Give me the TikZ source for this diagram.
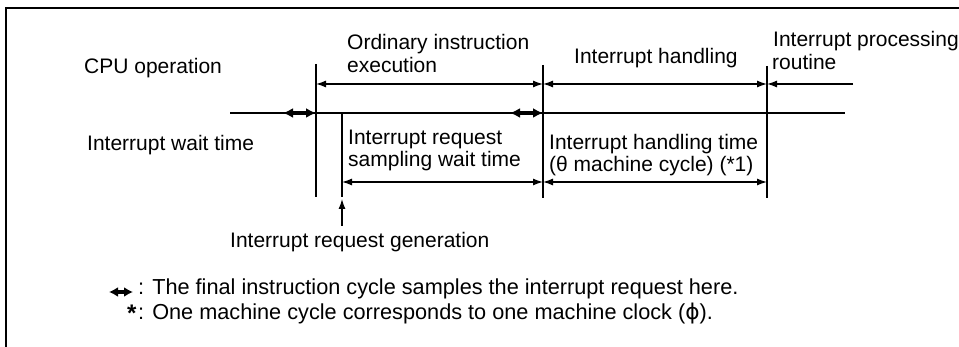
\documentclass[tikz,border=0pt]{standalone}
\usepackage{fontspec}
\setmainfont{Liberation Sans}
\newfontfamily\symfont{DejaVu Sans}
\usetikzlibrary{arrows.meta}
\tikzset{
  lbl/.style={anchor=base west, inner sep=0pt, font=\fontsize{21}{23}\selectfont},
  leglbl/.style={anchor=base west, inner sep=0pt, font=\fontsize{21.7}{23}\selectfont},
  frameline/.style={line width=2.6pt},
  timeline/.style={line width=1.8pt},
  marker/.style={line width=1.6pt},
  dimline/.style={line width=1.3pt, {Latex[length=10pt,width=7pt]}-{Latex[length=10pt,width=7pt]}},
  dimone/.style={line width=1.3pt, -{Latex[length=10pt,width=7pt]}},
  samplearrow/.style={line width=4.5pt, {Latex[length=10pt,width=10pt]}-{Latex[length=10pt,width=10pt]}},
}
\begin{document}
\begin{tikzpicture}[x=1pt,y=-1pt]
\useasboundingbox (0,0) rectangle (959,347);
% frame
\coordinate (fl) at (6,347);
\coordinate (fc) at (6,8);
\coordinate (fr) at (959,8);
\draw[frameline] (fl) -- (fc) -- (fr);

% coordinates
\coordinate (ls) at (230,113);
\coordinate (le) at (845,113);
\coordinate (a1s) at (283,113);
\coordinate (a1e) at (316,113);
\coordinate (a2s) at (510,113);
\coordinate (a2e) at (543,113);
\coordinate (v1t) at (316,64);
\coordinate (v1b) at (316,197);
\coordinate (v2t) at (342,113);
\coordinate (v2b) at (342,197);
\coordinate (g0) at (342,226);
\coordinate (g1) at (342,199);
\coordinate (v3t) at (543,65);
\coordinate (v3b) at (543,198);
\coordinate (v4t) at (767,66);
\coordinate (v4b) at (767,198);
\coordinate (u1) at (316,84);
\coordinate (u2) at (543,84);
\coordinate (u3) at (767,84);
\coordinate (u4) at (853,84);
\coordinate (d1) at (342,182);
\coordinate (d2) at (543,182);
\coordinate (d3) at (767,182);
\coordinate (ka) at (109,292);
\coordinate (kb) at (133,292);

% timeline
\draw[timeline] (ls) -- (le);
\draw[samplearrow] (a1s) -- (a1e);
\draw[samplearrow] (a2s) -- (a2e);

% vertical markers
\draw[marker] (v1t) -- (v1b);
\draw[marker] (v2t) -- (v2b);
\draw[marker] (v3t) -- (v3b);
\draw[marker] (v4t) -- (v4b);
\draw[line width=1.3pt, -{Latex[length=10pt,width=7pt]}] (g0) -- (g1);

% dimension arrows
\draw[dimline] (u1) -- (u2);
\draw[dimline] (u2) -- (u3);
\draw[dimone] (u4) -- (u3);
\draw[dimline] (d1) -- (d2);
\draw[dimline] (d2) -- (d3);

% labels
\node[lbl] (cpu) at (84,74) {CPU operation};
\node[lbl] (iwait) at (87,151) {Interrupt wait time};
\node[lbl] (ord1) at (347,50) {Ordinary instruction};
\node[lbl] (ord2) at (347,73) {execution};
\node[lbl] (ih) at (574,64) {Interrupt handling};
\node[lbl] (ipr1) at (773,47) {Interrupt processing};
\node[lbl] (ipr2) at (772,70) {routine};
\node[lbl] (irs1) at (348,145) {Interrupt request};
\node[lbl] (irs2) at (348,167) {sampling wait time};
\node[lbl] (iht1) at (549,150) {Interrupt handling time};
\node[lbl] (iht2) at (549,172) {(θ machine cycle) (*1)};
\node[lbl] (irg) at (230,248) {Interrupt request generation};

% legend
\draw[line width=4pt, {Latex[length=9pt,width=10pt]}-{Latex[length=9pt,width=10pt]}] (ka) -- (kb);
\node[leglbl] (leg1) at (138,295) {: The final instruction cycle samples the interrupt request here.};
\node[leglbl, font=\fontsize{24}{24}\bfseries] (star) at (127,322) {*};
\node[leglbl] (leg2) at (138,320) {: One machine cycle corresponds to one machine clock ({\symfont ϕ}).};
\end{tikzpicture}
\end{document}
